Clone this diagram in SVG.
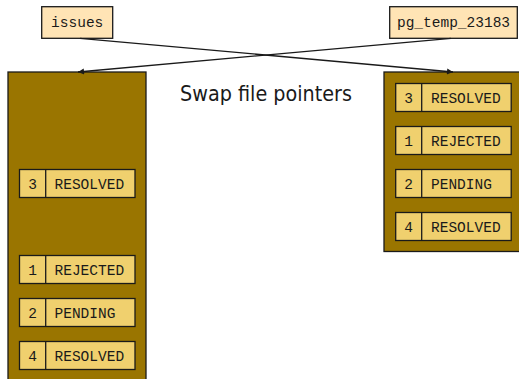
<svg xmlns="http://www.w3.org/2000/svg" width="519" height="379" viewBox="0 0 519 379">
<defs>
<style>
.cont{fill:#9a7500;stroke:#1a1a1a;stroke-width:1.3}
.rec{fill:#f0d06e;stroke:#1a1a1a;stroke-width:1.3}
.lbl{fill:#ffe4b5;stroke:#1a1a1a;stroke-width:1.3}
.mono{font-family:"Liberation Mono","DejaVu Sans Mono",monospace;font-size:14.5px;fill:#1a1a1a}
.conn{stroke:#1a1a1a;stroke-width:1.3;fill:none}
.title{font-family:"DejaVu Sans","Liberation Sans",sans-serif;font-size:21px;fill:#1a1a1a}
</style>
<marker id="ah" viewBox="0 0 10 10" refX="10" refY="5" markerWidth="7" markerHeight="6" markerUnits="userSpaceOnUse" orient="auto">
<path d="M0,0 L10,5 L0,10 z" fill="#1a1a1a"/>
</marker>
</defs>
<rect width="519" height="379" fill="#ffffff"/>
<g id="left-file">
<rect class="cont" x="8" y="72" width="138" height="320"/>
</g>
<g id="right-file">
<rect class="cont" x="384" y="72" width="140" height="179.5"/>
</g>
<g id="issues">
<rect class="lbl" x="41.7" y="6.7" width="71" height="31.6"/>
<text class="mono" x="77.2" y="27" text-anchor="middle">issues</text>
</g>
<g id="pg_temp_23183">
<rect class="lbl" x="389.7" y="6.7" width="127.6" height="31.6"/>
<text class="mono" x="453.5" y="27" text-anchor="middle">pg_temp_23183</text>
</g>
<g id="left-r3">
<rect class="rec" x="19.5" y="169.5" width="115.5" height="28"/>
<line class="rec" x1="45.7" y1="169.5" x2="45.7" y2="197.5"/>
<text class="mono" x="32.6" y="188.5" text-anchor="middle">3</text>
<text class="mono" x="54.5" y="188.5">RESOLVED</text>
</g>
<g id="left-r1">
<rect class="rec" x="19.5" y="255.5" width="115.5" height="28"/>
<line class="rec" x1="45.7" y1="255.5" x2="45.7" y2="283.5"/>
<text class="mono" x="32.6" y="274.5" text-anchor="middle">1</text>
<text class="mono" x="54.5" y="274.5">REJECTED</text>
</g>
<g id="left-r2">
<rect class="rec" x="19.5" y="298.5" width="115.5" height="28"/>
<line class="rec" x1="45.7" y1="298.5" x2="45.7" y2="326.5"/>
<text class="mono" x="32.6" y="317.5" text-anchor="middle">2</text>
<text class="mono" x="54.5" y="317.5">PENDING</text>
</g>
<g id="left-r4">
<rect class="rec" x="19.5" y="341.5" width="115.5" height="28"/>
<line class="rec" x1="45.7" y1="341.5" x2="45.7" y2="369.5"/>
<text class="mono" x="32.6" y="360.5" text-anchor="middle">4</text>
<text class="mono" x="54.5" y="360.5">RESOLVED</text>
</g>
<g id="right-r3">
<rect class="rec" x="395.7" y="83.5" width="115.5" height="28"/>
<line class="rec" x1="421.7" y1="83.5" x2="421.7" y2="111.5"/>
<text class="mono" x="408.7" y="102.5" text-anchor="middle">3</text>
<text class="mono" x="431" y="102.5">RESOLVED</text>
</g>
<g id="right-r1">
<rect class="rec" x="395.7" y="126.5" width="115.5" height="28"/>
<line class="rec" x1="421.7" y1="126.5" x2="421.7" y2="154.5"/>
<text class="mono" x="408.7" y="145.5" text-anchor="middle">1</text>
<text class="mono" x="431" y="145.5">REJECTED</text>
</g>
<g id="right-r2">
<rect class="rec" x="395.7" y="169.5" width="115.5" height="28"/>
<line class="rec" x1="421.7" y1="169.5" x2="421.7" y2="197.5"/>
<text class="mono" x="408.7" y="188.5" text-anchor="middle">2</text>
<text class="mono" x="431" y="188.5">PENDING</text>
</g>
<g id="right-r4">
<rect class="rec" x="395.7" y="212.5" width="115.5" height="28"/>
<line class="rec" x1="421.7" y1="212.5" x2="421.7" y2="240.5"/>
<text class="mono" x="408.7" y="231.5" text-anchor="middle">4</text>
<text class="mono" x="431" y="231.5">RESOLVED</text>
</g>
<g id="connectors">
<line class="conn" x1="80" y1="38.3" x2="453" y2="72" marker-end="url(#ah)"/>
<line class="conn" x1="451" y1="38.3" x2="78" y2="72" marker-end="url(#ah)"/>
</g>
<text class="title" x="180" y="101" textLength="172" lengthAdjust="spacingAndGlyphs">Swap file pointers</text>
</svg>
